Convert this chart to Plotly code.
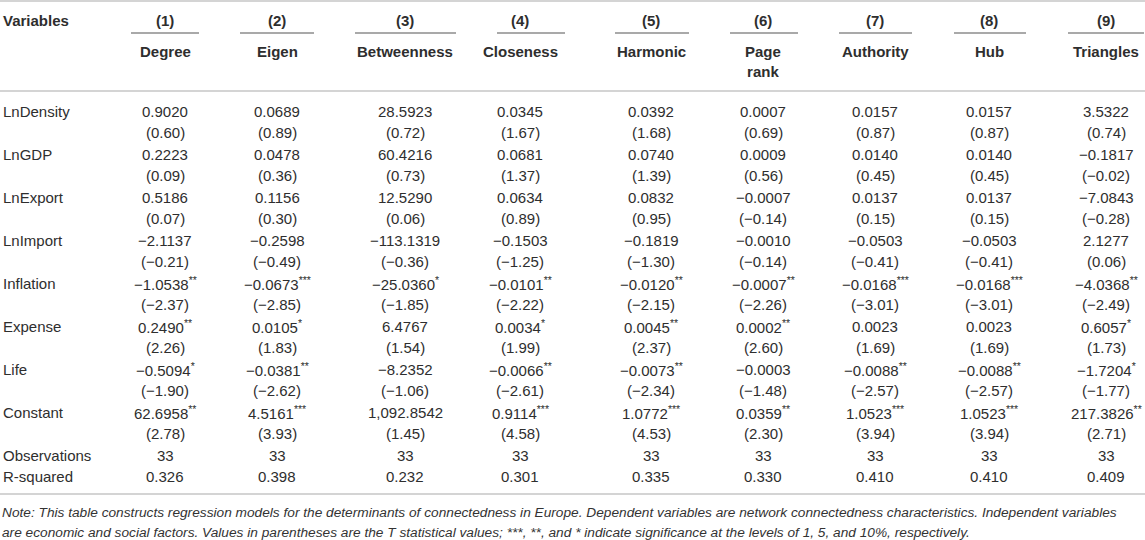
import plotly.graph_objects as go

# column headers
models = ["(1)", "(2)", "(3)", "(4)", "(5)", "(6)", "(7)", "(8)", "(9)"]
dep_vars = ["Degree", "Eigen", "Betweenness", "Closeness", "Harmonic",
            "Page<br>rank", "Authority", "Hub", "Triangles"]

# regressors
variables = ["LnDensity", "LnGDP", "LnExport", "LnImport",
             "Inflation", "Expense", "Life", "Constant"]

# coefficients
coef_lndensity = [0.9020, 0.0689, 28.5923, 0.0345, 0.0392, 0.0007, 0.0157, 0.0157, 3.5322]
coef_lngdp = [0.2223, 0.0478, 60.4216, 0.0681, 0.0740, 0.0009, 0.0140, 0.0140, -0.1817]
coef_lnexport = [0.5186, 0.1156, 12.5290, 0.0634, 0.0832, -0.0007, 0.0137, 0.0137, -7.0843]
coef_lnimport = [-2.1137, -0.2598, -113.1319, -0.1503, -0.1819, -0.0010, -0.0503, -0.0503, 2.1277]
coef_inflation = [-1.0538, -0.0673, -25.0360, -0.0101, -0.0120, -0.0007, -0.0168, -0.0168, -4.0368]
coef_expense = [0.2490, 0.0105, 6.4767, 0.0034, 0.0045, 0.0002, 0.0023, 0.0023, 0.6057]
coef_life = [-0.5094, -0.0381, -8.2352, -0.0066, -0.0073, -0.0003, -0.0088, -0.0088, -1.7204]
coef_constant = [62.6958, 4.5161, 1092.8542, 0.9114, 1.0772, 0.0359, 1.0523, 1.0523, 217.3826]

# significance stars
stars_none = ["", "", "", "", "", "", "", "", ""]
stars_inflation = ["**", "***", "*", "**", "**", "**", "***", "***", "**"]
stars_expense = ["**", "*", "", "*", "**", "**", "", "", "*"]
stars_life = ["*", "**", "", "**", "**", "", "**", "**", "*"]
stars_constant = ["**", "***", "", "***", "***", "**", "***", "***", "**"]

# t statistics
t_lndensity = [0.60, 0.89, 0.72, 1.67, 1.68, 0.69, 0.87, 0.87, 0.74]
t_lngdp = [0.09, 0.36, 0.73, 1.37, 1.39, 0.56, 0.45, 0.45, -0.02]
t_lnexport = [0.07, 0.30, 0.06, 0.89, 0.95, -0.14, 0.15, 0.15, -0.28]
t_lnimport = [-0.21, -0.49, -0.36, -1.25, -1.30, -0.14, -0.41, -0.41, 0.06]
t_inflation = [-2.37, -2.85, -1.85, -2.22, -2.15, -2.26, -3.01, -3.01, -2.49]
t_expense = [2.26, 1.83, 1.54, 1.99, 2.37, 2.60, 1.69, 1.69, 1.73]
t_life = [-1.90, -2.62, -1.06, -2.61, -2.34, -1.48, -2.57, -2.57, -1.77]
t_constant = [2.78, 3.93, 1.45, 4.58, 4.53, 2.30, 3.94, 3.94, 2.71]

observations = [33, 33, 33, 33, 33, 33, 33, 33, 33]
r_squared = [0.326, 0.398, 0.232, 0.301, 0.335, 0.330, 0.410, 0.410, 0.409]

note_1 = ("Note: This table constructs regression models for the determinants of connectedness in Europe. "
          "Dependent variables are network connectedness characteristics. Independent variables")
note_2 = ("are economic and social factors. Values in parentheses are the T statistical values; "
          "***, **, and * indicate significance at the levels of 1, 5, and 10%, respectively.")

coefs = [coef_lndensity, coef_lngdp, coef_lnexport, coef_lnimport,
         coef_inflation, coef_expense, coef_life, coef_constant]
stars = [stars_none, stars_none, stars_none, stars_none,
         stars_inflation, stars_expense, stars_life, stars_constant]
tstats = [t_lndensity, t_lngdp, t_lnexport, t_lnimport,
          t_inflation, t_expense, t_life, t_constant]


def fmt(v, d):
    return f"{v:,.{d}f}".replace("-", "\u2212")


# layout in pixel units
W, H = 1145, 540
col_x = [165, 277, 405, 520, 651, 763, 875, 989, 1106]
col_span = [(131, 199), (240, 314), (355, 456), (497, 565), (615, 689),
            (730, 798), (839, 912), (954, 1026), (1068, 1144)]
row0, pitch = 111, 21.5

FONT = "Liberation Sans, Arial, Helvetica, sans-serif"
TXT = "#2e2e2e"

fig = go.Figure()
ann = []


def add(x, y, text, anchor="center", bold=False, size=15, italic=False, color=TXT, yanchor="middle"):
    ann.append(dict(
        x=x, y=y, text=text, showarrow=False, xanchor=anchor, yanchor=yanchor,
        font=dict(family=FONT, size=size, color=color,
                  weight="bold" if bold else "normal",
                  style="italic" if italic else "normal"),
        xref="x", yref="y"))


# header
add(1, 20, "Variables", anchor="left", bold=True)
for i in range(9):
    add(col_x[i], 20, models[i], bold=True)
    add(col_x[i], 41, dep_vars[i], bold=True, yanchor="top")

# body
for r, var in enumerate(variables):
    y = row0 + 2 * r * pitch
    add(1, y, var, anchor="left")
    for i in range(9):
        s = stars[r][i]
        txt = fmt(coefs[r][i], 4) + (f"<sup>{s}</sup>" if s else "")
        add(col_x[i], y, txt)
        add(col_x[i], y + pitch, "(" + fmt(tstats[r][i], 2) + ")")

y_obs = row0 + 16 * pitch
add(1, y_obs, "Observations", anchor="left")
add(1, y_obs + pitch, "R-squared", anchor="left")
for i in range(9):
    add(col_x[i], y_obs, str(observations[i]))
    add(col_x[i], y_obs + pitch, fmt(r_squared[i], 3))

add(0, 512, note_1, anchor="left", italic=True, size=13.7, color="#333333")
add(0, 532, note_2, anchor="left", italic=True, size=13.7, color="#333333")

# rules
shapes = []
for yy in [1, 91, 494]:
    shapes.append(dict(type="line", x0=0, x1=W, y0=yy, y1=yy, xref="x", yref="y",
                       line=dict(color="#d4d4d4", width=2)))
for a, b in col_span:
    shapes.append(dict(type="line", x0=a, x1=b, y0=33, y1=33, xref="x", yref="y",
                       line=dict(color="#8c8c8c", width=1.5)))

fig.update_layout(
    width=W, height=H,
    margin=dict(l=0, r=0, t=0, b=0),
    paper_bgcolor="white", plot_bgcolor="white",
    xaxis=dict(range=[0, W], visible=False, fixedrange=True),
    yaxis=dict(range=[H, 0], visible=False, fixedrange=True),
    annotations=ann, shapes=shapes,
    showlegend=False,
)

# page body has a default 8px margin; drop it so the table fills the window
fig.write_html("out.html", config={"displayModeBar": False},
               post_script="document.body.style.margin='0';document.body.style.overflow='hidden';")
